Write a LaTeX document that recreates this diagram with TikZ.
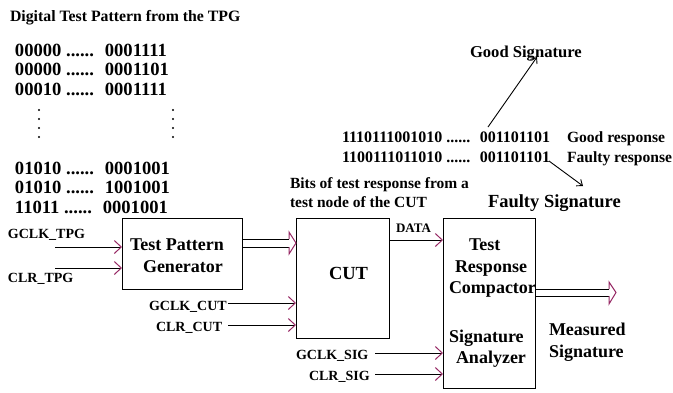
\documentclass[tikz,border=0pt]{standalone}
\usepackage{fontspec}
\setmainfont{Liberation Serif}
\usetikzlibrary{arrows.meta}
\definecolor{tipc}{RGB}{150,40,100}
\begin{document}
\begin{tikzpicture}[x=1pt,y=-1pt,
  txt/.style={inner sep=0pt,outer sep=0pt,anchor=base west,
              font=\bfseries\fontsize{#1}{#1}\selectfont},
  blk/.style={draw,line width=1pt,inner sep=0pt,outer sep=0pt},
  inarr/.style={line width=1pt,-{Straight Barb[length=7pt,width=13pt,line width=1pt,color=tipc]}},
  sigarr/.style={line width=0.9pt,-{Straight Barb[length=5pt,width=8pt,line width=0.9pt]}},
  dotc/.style={fill=black}]
\useasboundingbox (0,0) rectangle (673,392);

% header and test patterns
\node[txt=15.8] (title) at (10,21) {Digital Test Pattern from the TPG};
\node[txt=18.6] (p1) at (15,56)  {00000 ...... \ 0001111};
\node[txt=18.6] (p2) at (15,75.5){00000 ...... \ 0001101};
\node[txt=18.6] (p3) at (15,95)  {00010 ...... \ 0001111};
\node[txt=18.6] (p4) at (15,174) {01010 ...... \ 0001001};
\node[txt=18.6] (p5) at (15,193.5){01010 ...... \ 1001001};
\node[txt=18.6] (p6) at (15,213) {11011 ...... \ 0001001};
\foreach \yy in {110,119,128,137}{
  \fill[dotc] (39,\yy) circle (1.1);
  \fill[dotc] (173,\yy) circle (1.1);
}

% blocks
\node[blk,minimum width=120,minimum height=71] (tpg) at (182,253.5) {};
\node[blk,minimum width=93,minimum height=120] (cut) at (342.5,278) {};
\node[blk,minimum width=92,minimum height=170] (trc) at (489,303) {};

\node[txt=18] (tpgA) at (130,250) {Test Pattern};
\node[txt=18] (tpgB) at (143,272) {Generator};
\node[txt=18.5] (cutT) at (329,279) {CUT};
\node[txt=18] (trcA) at (469,250) {Test};
\node[txt=18] (trcB) at (455,272) {Response};
\node[txt=18] (trcC) at (449,293) {Compactor};
\node[txt=18] (trcD) at (449,342) {Signature};
\node[txt=18] (trcE) at (456,363) {Analyzer};
\node[txt=18] (msA) at (549,335) {Measured};
\node[txt=18] (msB) at (549,357) {Signature};

% control inputs
\node[txt=14] (lgt) at (8,238) {GCLK\_TPG};
\node[txt=14] (lct) at (8,282) {CLR\_TPG};
\node[txt=14] (lgc) at (149,310) {GCLK\_CUT};
\node[txt=14] (lcc) at (156,331) {CLR\_CUT};
\node[txt=13] (ldata) at (396,232) {DATA};
\node[txt=14] (lgs) at (296,359) {GCLK\_SIG};
\node[txt=14] (lcs) at (309,380) {CLR\_SIG};

\coordinate (gt) at (55,247);
\coordinate (ct) at (55,268);
\coordinate (gc) at (228,303);
\coordinate (cc) at (228,325);
\coordinate (gs) at (375,353);
\coordinate (cs) at (375,374);
\coordinate (dt) at (389,240);

\draw[inarr] (gt) -- (gt -| tpg.west);
\draw[inarr] (ct) -- (ct -| tpg.west);
\draw[inarr] (gc) -- (gc -| cut.west);
\draw[inarr] (cc) -- (cc -| cut.west);
\draw[inarr] (gs) -- (gs -| trc.west);
\draw[inarr] (cs) -- (cs -| trc.west);
\draw[inarr] (dt) -- (dt -| trc.west);

% parallel pattern bus into the CUT
\draw[line width=1pt] (242,239) -- (289,239) (242,247) -- (289,247);
\draw[line width=1pt,tipc,line join=miter] (289,239) -- (289,232) -- (296,243) -- (289,254) -- (289,247);

% measured signature output bus
\draw[line width=1pt] (535,289) -- (609,289) (535,296) -- (609,296);
\draw[line width=1pt,tipc,line join=miter] (609,289) -- (609,282) -- (616,292.5) -- (609,304) -- (609,296);

% response streams and signatures
\node[txt=15.5] (bitsA) at (290,188) {Bits of test response from a};
\node[txt=15.5] (bitsB) at (290,207) {test node of the CUT};
\node[txt=16] (r1) at (342,142) {1110111001010 ...... \ 001101101};
\node[txt=16] (r2) at (342,162) {1100111011010 ...... \ 001101101};
\node[txt=15.6] (g1) at (567,142) {Good response};
\node[txt=15.6] (f1) at (567,162) {Faulty response};
\node[txt=16.6] (goodsig) at (470,57) {Good Signature};
\node[txt=18.5] (faultsig) at (488,207) {Faulty Signature};

\coordinate (gsa) at (488,127);
\coordinate (gsb) at (537,57);
\coordinate (fsa) at (549,161);
\coordinate (fsb) at (583,186);
\draw[sigarr] (gsa) -- (gsb);
\draw[sigarr] (fsa) -- (fsb);
\end{tikzpicture}
\end{document}
